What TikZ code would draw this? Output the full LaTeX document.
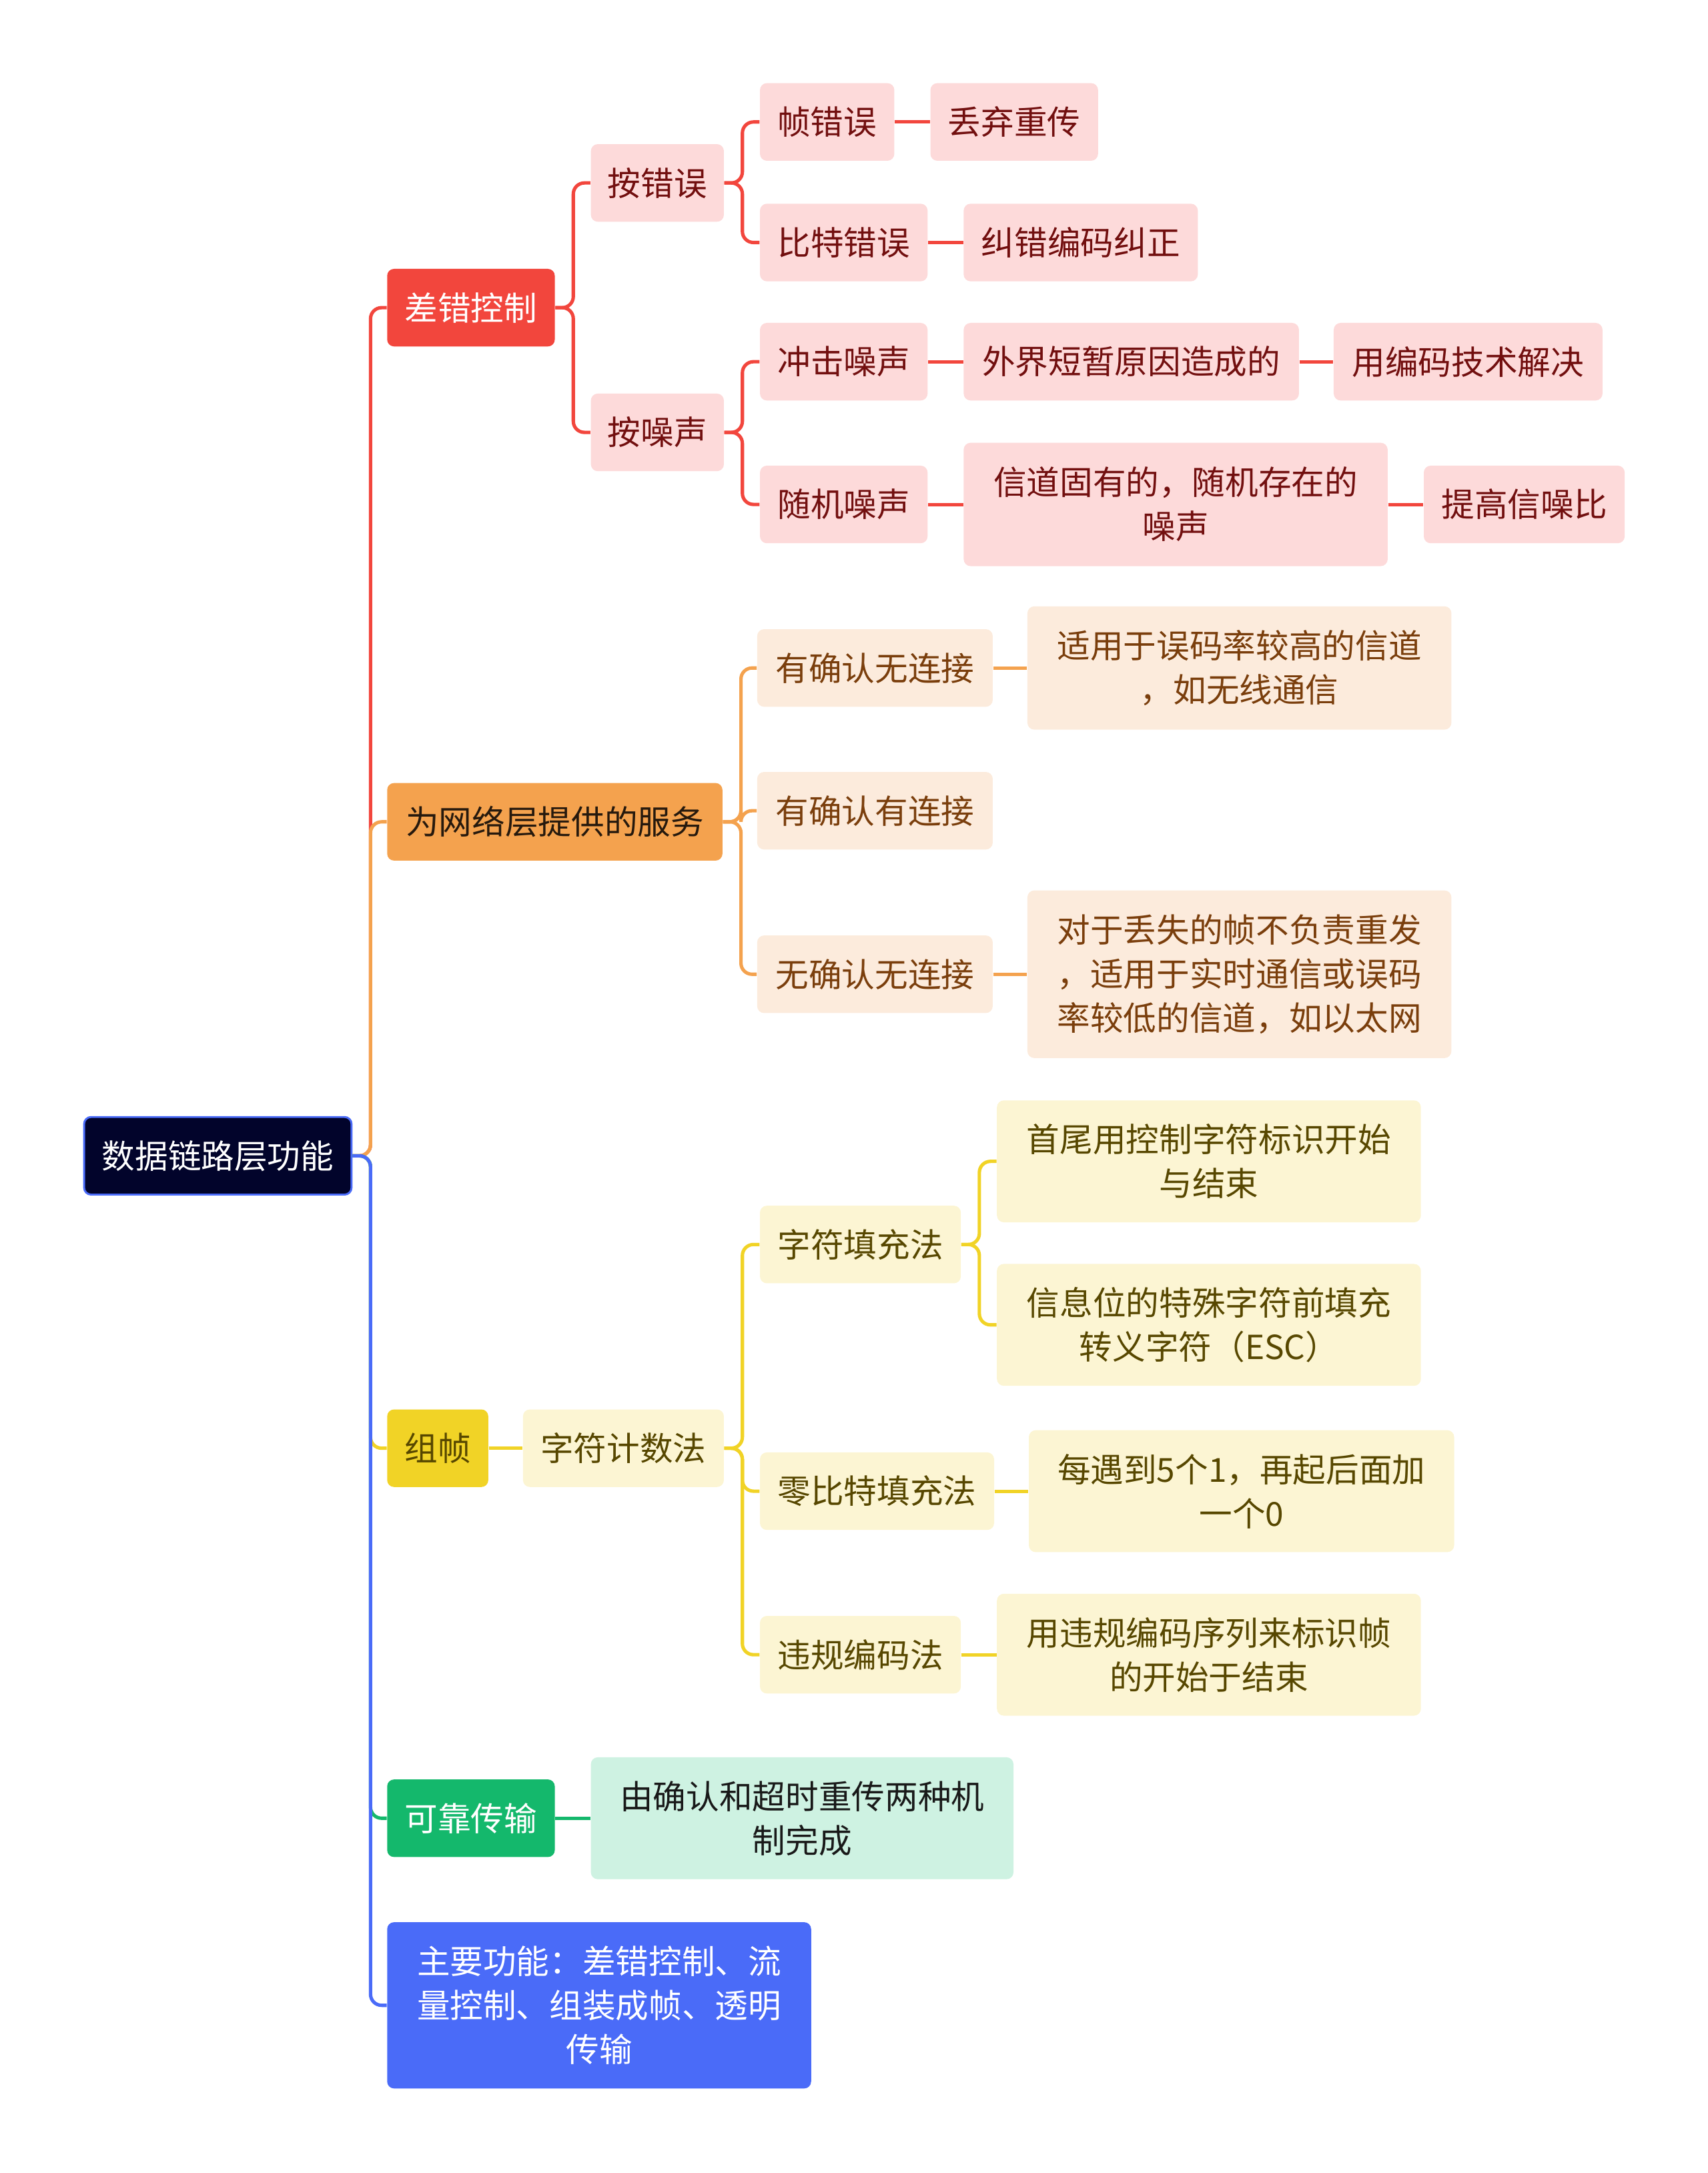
\documentclass[tikz,border=0pt]{standalone}
\usepackage{fontspec}
\setmainfont{Noto Sans CJK SC}
\usepackage{xcolor}
\definecolor{rootnavy}{HTML}{02042B}
\definecolor{errred}{HTML}{F2463D}
\definecolor{errlight}{HTML}{FDDADA}
\definecolor{errtext}{HTML}{720F0F}
\definecolor{svcorange}{HTML}{F4A24E}
\definecolor{svclight}{HTML}{FCEBDC}
\definecolor{svctext}{HTML}{7A3E0C}
\definecolor{frmyellow}{HTML}{F1D326}
\definecolor{frmlight}{HTML}{FCF5D3}
\definecolor{frmtext}{HTML}{574700}
\definecolor{relgreen}{HTML}{14B86C}
\definecolor{rellight}{HTML}{CEF2E2}
\definecolor{mainblue}{HTML}{4A6BF8}
\tikzset{
  mbox/.style={anchor=west, rounded corners=0.1cm, inner xsep=0.2cm,
    minimum height=1.12cm, align=center,
    font=\fontsize{13.6}{18.1}\selectfont},
  errsub/.style={mbox, fill=errlight, text=errtext},
  svcsub/.style={mbox, fill=svclight, text=svctext},
  frmsub/.style={mbox, fill=frmlight, text=frmtext},
  relsub/.style={mbox, fill=rellight, text=black!90},
  link/.style={line width=1.4pt, rounded corners=0.16cm},
}

\begin{document}
\begin{tikzpicture}[x=0.02cm, y=-0.02cm]
\useasboundingbox (0,0) rectangle (1232,1568);
% root
\node[mbox, fill=rootnavy, draw=mainblue, line width=0.8pt, text=white,
  minimum width=3.86cm] (root) at (60,834) {数据链路层功能};
% first level
\node[mbox, fill=errred, text=white, minimum width=2.42cm] (err) at (279,222) {差错控制};
\node[mbox, fill=svcorange, text=black!80!brown, minimum width=4.84cm] (svc) at (279,593) {为网络层提供的服务};
\node[mbox, fill=frmyellow, text=frmtext, minimum width=1.46cm] (frm) at (279,1045) {组帧};
\node[mbox, fill=relgreen, text=white, minimum width=2.42cm] (rel) at (279,1312) {可靠传输};
\node[mbox, fill=mainblue, text=white, minimum width=6.12cm, minimum height=2.4cm] (mainfn) at (279,1447)
  {主要功能：差错控制、流\\量控制、组装成帧、透明\\传输};
% error control
\node[errsub, minimum width=1.92cm] (byerr) at (426,132) {按错误};
\node[errsub, minimum width=1.92cm] (bynoise) at (426,312) {按噪声};
\node[errsub, minimum width=1.94cm] (frmerr) at (548,88) {帧错误};
\node[errsub, minimum width=2.42cm] (discard) at (671,88) {丢弃重传};
\node[errsub, minimum width=2.42cm] (biterr) at (548,175) {比特错误};
\node[errsub, minimum width=3.38cm] (fec) at (695,175) {纠错编码纠正};
\node[errsub, minimum width=2.42cm] (impulse) at (548,261) {冲击噪声};
\node[errsub, minimum width=4.84cm] (external) at (695,261) {外界短暂原因造成的};
\node[errsub, minimum width=3.88cm] (coding) at (962,261) {用编码技术解决};
\node[errsub, minimum width=2.42cm] (random) at (548,364) {随机噪声};
\node[errsub, minimum width=6.12cm, minimum height=1.78cm] (inherent) at (695,364) {信道固有的，随机存在的\\噪声};
\node[errsub, minimum width=2.9cm] (snr) at (1027,364) {提高信噪比};
% services
\node[svcsub, minimum width=3.4cm] (ackless) at (546,482) {有确认无连接};
\node[svcsub, minimum width=3.4cm] (ackconn) at (546,585) {有确认有连接};
\node[svcsub, minimum width=3.4cm] (noack) at (546,703) {无确认无连接};
\node[svcsub, minimum width=6.12cm, minimum height=1.78cm] (ackdesc) at (741,482)
  {适用于误码率较高的信道\\，如无线通信};
\node[svcsub, minimum width=6.12cm, minimum height=2.42cm] (noackdesc) at (741,703)
  {对于丢失的帧不负责重发\\，适用于实时通信或误码\\率较低的信道，如以太网};
% framing
\node[frmsub, minimum width=2.9cm] (count) at (377,1045) {字符计数法};
\node[frmsub, minimum width=2.9cm] (charfill) at (548,898) {字符填充法};
\node[frmsub, minimum width=3.38cm] (bitfill) at (548,1076) {零比特填充法};
\node[frmsub, minimum width=2.9cm] (violate) at (548,1194) {违规编码法};
\node[frmsub, minimum width=6.12cm, minimum height=1.76cm] (flag) at (719,838)
  {首尾用控制字符标识开始\\与结束};
\node[frmsub, minimum width=6.12cm, minimum height=1.76cm] (escfill) at (719,956)
  {信息位的特殊字符前填充\\转义字符（ESC）};
\node[frmsub, minimum width=6.14cm, minimum height=1.76cm] (five) at (742,1076)
  {每遇到5个1，再起后面加\\一个0};
\node[frmsub, minimum width=6.12cm, minimum height=1.76cm] (vmark) at (719,1194)
  {用违规编码序列来标识帧\\的开始于结束};
% reliable transfer
\node[relsub, minimum width=6.1cm, minimum height=1.76cm] (confirm) at (426,1312)
  {由确认和超时重传两种机\\制完成};
% elbow links
\foreach \a/\b/\col in {root/err/errred, root/svc/svcorange, root/frm/frmyellow,
    root/rel/relgreen, root/mainfn/mainblue,
    err/byerr/errred, err/bynoise/errred,
    byerr/frmerr/errred, byerr/biterr/errred,
    bynoise/impulse/errred, bynoise/random/errred,
    svc/ackless/svcorange, svc/ackconn/svcorange, svc/noack/svcorange,
    count/charfill/frmyellow, count/bitfill/frmyellow, count/violate/frmyellow,
    charfill/flag/frmyellow, charfill/escfill/frmyellow}{
  \draw[link, draw=\col] (\a.east) -- ++(13,0) |- (\b.west);
}
% straight links
\foreach \a/\b/\col in {frmerr/discard/errred, biterr/fec/errred,
    impulse/external/errred, external/coding/errred,
    random/inherent/errred, inherent/snr/errred,
    ackless/ackdesc/svcorange, noack/noackdesc/svcorange,
    frm/count/frmyellow, bitfill/five/frmyellow, violate/vmark/frmyellow,
    rel/confirm/relgreen}{
  \draw[link, draw=\col] (\a.east) -- (\b.west);
}
\end{tikzpicture}
\end{document}
